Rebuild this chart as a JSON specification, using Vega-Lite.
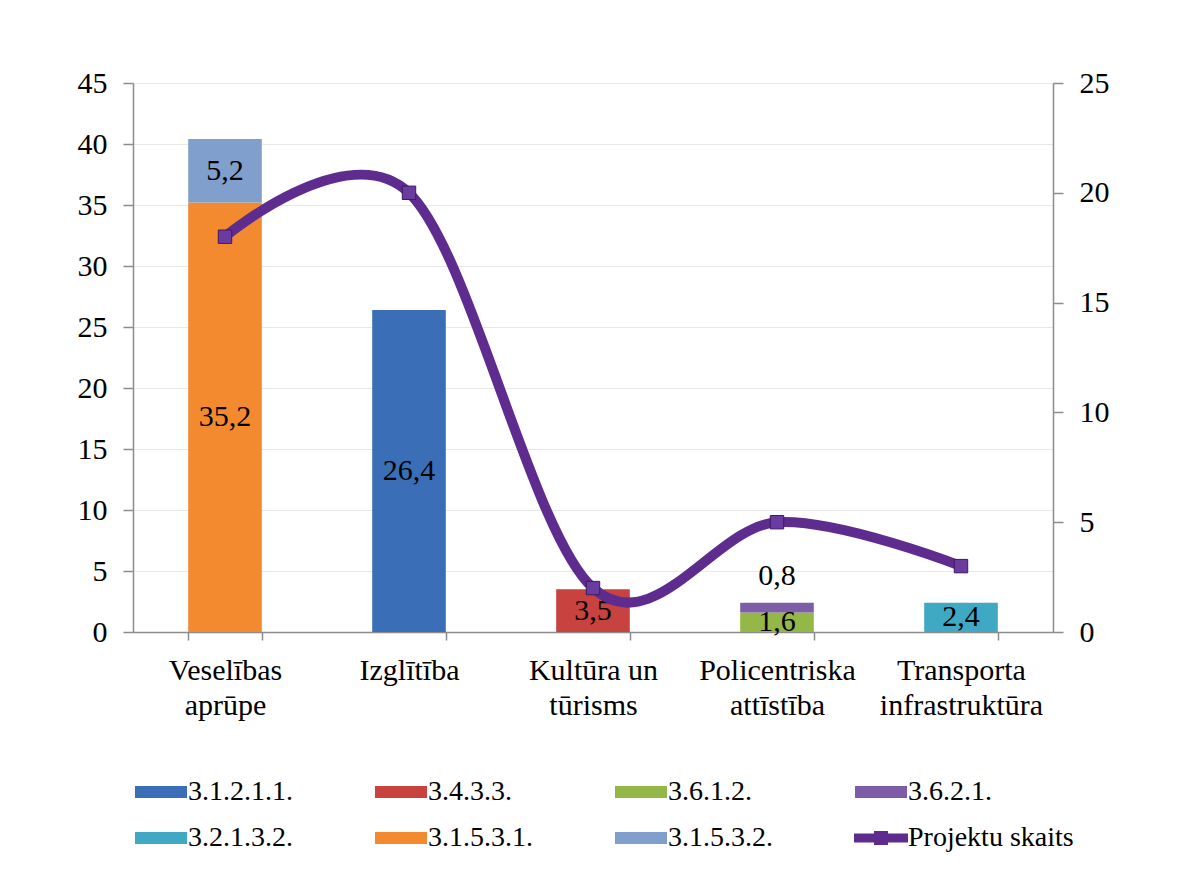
{
  "$schema": "https://vega.github.io/schema/vega-lite/v6.json",
  "width": 920,
  "height": 549,
  "autosize": {"type": "none"},
  "padding": {"left": 133, "top": 83, "right": 129, "bottom": 242},
  "background": "white",
  "config": {
    "locale": {"number": {"decimal": ",", "thousands": " ", "grouping": [3], "currency": ["", " €"]}},
    "view": {"stroke": null},
    "font": "Liberation Serif",
    "axis": {"labelFont": "Liberation Serif", "labelColor": "black", "domainColor": "#8C8C8C", "tickColor": "#8C8C8C", "domainWidth": 1.5, "tickWidth": 1.5, "titleFont": "Liberation Serif"},
    "legend": {"labelFont": "Liberation Serif", "labelColor": "black"}
  },
  "layer": [
    {
      "data": {
        "values": [
          {"category": "Veselības aprūpe", "series": "3.1.5.3.1.", "value": 35.2},
          {"category": "Veselības aprūpe", "series": "3.1.5.3.2.", "value": 5.2},
          {"category": "Izglītība", "series": "3.1.2.1.1.", "value": 26.4},
          {"category": "Kultūra un tūrisms", "series": "3.4.3.3.", "value": 3.5},
          {"category": "Policentriska attīstība", "series": "3.6.1.2.", "value": 1.6},
          {"category": "Policentriska attīstība", "series": "3.6.2.1.", "value": 0.8},
          {"category": "Transporta infrastruktūra", "series": "3.2.1.3.2.", "value": 2.4}
        ]
      },
      "layer": [
        {
          "mark": {"type": "bar"},
          "encoding": {
            "x": {
              "field": "category", "type": "nominal", "sort": null,
              "scale": {"paddingInner": 0.6, "paddingOuter": 0.3},
              "axis": {"title": null, "labelAngle": 0, "labelFontSize": 30, "labelLineHeight": 35, "labelPadding": 15, "tickSize": 8, "tickBand": "extent", "labelBaseline": "top",
                "labelExpr": "datum.label == 'Kultūra un tūrisms' ? ['Kultūra un', 'tūrisms'] : split(datum.label, ' ')"}
            },
            "y": {
              "field": "value", "type": "quantitative", "stack": "zero",
              "scale": {"domain": [0, 45], "nice": false},
              "axis": {"title": null, "orient": "left", "values": [0, 5, 10, 15, 20, 25, 30, 35, 40, 45], "labelFontSize": 30, "tickSize": 10, "labelPadding": 16, "grid": true, "gridColor": "#E8E8E8", "gridWidth": 1}
            },
            "order": {"field": "series", "sort": "ascending"},
            "color": {
              "field": "series", "type": "nominal",
              "scale": {
                "domain": ["3.1.2.1.1.", "3.2.1.3.2.", "3.4.3.3.", "3.1.5.3.1.", "3.6.1.2.", "3.1.5.3.2.", "3.6.2.1.", "Projektu skaits"],
                "range": ["#3A6FB7", "#3FA8C2", "#C8423F", "#F48A30", "#93B847", "#819FCD", "#7D5DA8", "#5E2C8E"]
              },
              "legend": {
                "title": null, "orient": "none", "legendX": 2, "legendY": 695, "columns": 4, "gridAlign": "all",
                "columnPadding": 20, "rowPadding": 18, "padding": 0, "labelLimit": 400,
                "labelFontSize": 28, "labelOffset": 13, "symbolSize": 400, "symbolOffset": 12,
                "symbolStrokeWidth": 0, "symbolOpacity": 1,
                "encode": {
                  "symbols": {
                    "update": {
                      "shape": {"signal": "datum.value === 'Projektu skaits' ? 'M-2.7,-0.45H2.7V0.45H-2.7Z M-0.7,-0.7H0.7V0.7H-0.7Z' : 'M-2.6,-0.6H2.6V0.6H-2.6Z'"},
                      "fill": {"signal": "scale('color', datum.value)"},
                      "strokeWidth": {"value": 0},
                      "opacity": {"value": 1}
                    }
                  }
                }
              }
            }
          }
        },
        {
          "transform": [
            {"stack": "value", "groupby": ["category"], "sort": [{"field": "series", "order": "ascending"}], "as": ["v0", "v1"]},
            {"calculate": "(datum.v0 + datum.v1) / 2", "as": "mid"},
            {"filter": "datum.value >= 1"}
          ],
          "mark": {"type": "text", "fontSize": 30, "font": "Liberation Serif", "color": "black", "baseline": "middle"},
          "encoding": {
            "x": {"field": "category", "type": "nominal", "sort": null},
            "y": {"field": "mid", "type": "quantitative"},
            "text": {"field": "value", "type": "quantitative", "format": ".1f"}
          }
        },
        {
          "transform": [
            {"stack": "value", "groupby": ["category"], "sort": [{"field": "series", "order": "ascending"}], "as": ["v0", "v1"]},
            {"filter": "datum.value < 1"}
          ],
          "mark": {"type": "text", "fontSize": 30, "font": "Liberation Serif", "color": "black", "baseline": "middle", "dy": -27},
          "encoding": {
            "x": {"field": "category", "type": "nominal", "sort": null},
            "y": {"field": "v1", "type": "quantitative"},
            "text": {"field": "value", "type": "quantitative", "format": ".1f"}
          }
        }
      ]
    },
    {
      "data": {
        "values": [
          {"category": "Veselības aprūpe", "name": "Projektu skaits", "count": 18},
          {"category": "Izglītība", "name": "Projektu skaits", "count": 20},
          {"category": "Kultūra un tūrisms", "name": "Projektu skaits", "count": 2},
          {"category": "Policentriska attīstība", "name": "Projektu skaits", "count": 5},
          {"category": "Transporta infrastruktūra", "name": "Projektu skaits", "count": 3}
        ]
      },
      "layer": [
        {
          "mark": {"type": "line", "interpolate": "cardinal", "strokeWidth": 10, "strokeCap": "round"},
          "encoding": {
            "x": {"field": "category", "type": "nominal", "sort": null},
            "y": {
              "field": "count", "type": "quantitative",
              "scale": {"domain": [0, 25], "nice": false},
              "axis": {"title": null, "orient": "right", "values": [0, 5, 10, 15, 20, 25], "labelFontSize": 30, "tickSize": 10, "labelPadding": 16, "grid": false}
            },
            "color": {"field": "name", "type": "nominal"}
          }
        },
        {
          "mark": {"type": "point", "shape": "square", "filled": true, "size": 180, "color": "#6B3CA0", "stroke": "#3E1A60", "strokeWidth": 1, "opacity": 1},
          "encoding": {
            "x": {"field": "category", "type": "nominal", "sort": null},
            "y": {"field": "count", "type": "quantitative"}
          }
        }
      ]
    }
  ],
  "resolve": {"scale": {"y": "independent"}}
}
